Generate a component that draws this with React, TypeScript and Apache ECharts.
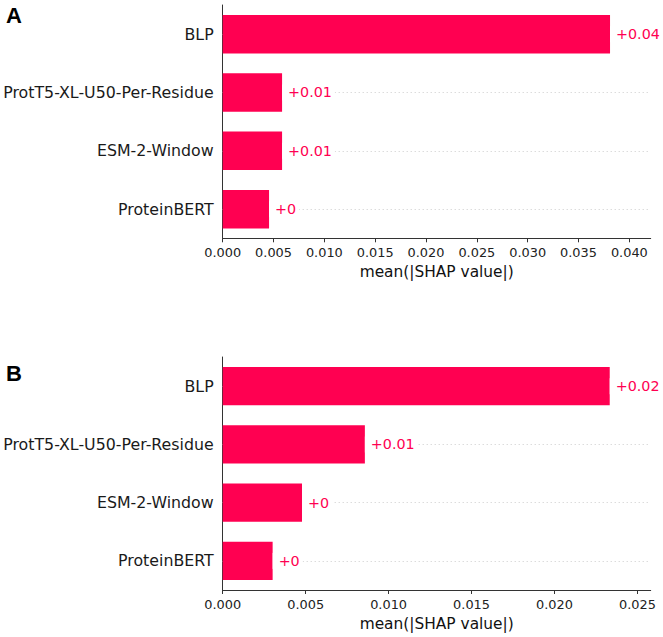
import React, { useEffect, useRef } from "react";
import * as echarts from "echarts";

// Feature names, top to bottom
const categories = ["BLP", "ProtT5-XL-U50-Per-Residue", "ESM-2-Window", "ProteinBERT"];

// mean(|SHAP value|) per feature, panel A and panel B
const shapA = [0.0381, 0.00584, 0.00584, 0.00456];
const shapB = [0.02333, 0.00857, 0.00478, 0.00301];

// x-axis tick values and axis extents
const ticksA = [0, 0.005, 0.01, 0.015, 0.02, 0.025, 0.03, 0.035, 0.04];
const ticksB = [0, 0.005, 0.01, 0.015, 0.02, 0.025];
const axisMaxA = 0.0421;
const axisMaxB = 0.0258;

const panelLetters = ["A", "B"];

const RED = "#ff0051";
const AXIS = "#333333";
const FONT = "DejaVu Sans";

const valueLabel = (v: number) => "+" + String(Number(v.toFixed(2)));

function makeX(gridIndex: number, max: number, ticks: number[]) {
  return {
    type: "value",
    gridIndex,
    min: 0,
    max,
    axisLine: { show: true, lineStyle: { color: AXIS, width: 1 } },
    axisTick: { show: true, length: 4, lineStyle: { color: AXIS }, customValues: ticks },
    axisLabel: {
      customValues: ticks,
      formatter: (v: number) => v.toFixed(3),
      color: "#222",
      fontFamily: FONT,
      fontSize: 12.9,
      margin: 8,
    },
    splitLine: { show: false },
    name: "mean(|SHAP value|)",
    nameLocation: "middle",
    nameGap: 26,
    nameTextStyle: { color: "#111", fontFamily: FONT, fontSize: 15.4 },
  };
}

function makeY(gridIndex: number) {
  return {
    type: "category",
    gridIndex,
    data: categories,
    inverse: true,
    axisLine: { show: true, lineStyle: { color: AXIS, width: 1 } },
    axisTick: { show: false },
    axisLabel: { color: "#1a1a1a", fontFamily: FONT, fontSize: 15.8, margin: 9 },
    splitLine: { show: false },
  };
}

// dotted guide line across the plot at each feature row, kept behind the bars
function guideSeries(idx: number) {
  return {
    type: "line",
    xAxisIndex: idx,
    yAxisIndex: idx,
    data: [],
    z: 1,
    silent: true,
    markLine: {
      z: 1,
      silent: true,
      symbol: ["none", "none"],
      label: { show: false },
      lineStyle: { color: "#cccccc", type: [1, 3], width: 1 },
      data: categories.map((c) => ({ yAxis: c })),
    },
  };
}

function barSeries(idx: number, values: number[]) {
  return {
    type: "bar",
    xAxisIndex: idx,
    yAxisIndex: idx,
    data: values,
    barWidth: "66%",
    z: 3,
    itemStyle: { color: RED },
    label: {
      show: true,
      position: "right",
      distance: 0,
      padding: [1, 3, 1, 6],
      backgroundColor: "#ffffff",
      color: RED,
      fontFamily: FONT,
      fontSize: 14.3,
      formatter: (p: any) => valueLabel(p.value),
    },
  };
}

export default function App() {
  const ref = useRef<HTMLDivElement>(null);

  useEffect(() => {
    if (!ref.current) return;
    const chart = echarts.init(ref.current, null, { renderer: "svg" });
    chart.setOption({
      animation: false,
      backgroundColor: "#ffffff",
      grid: [
        { left: 222.7, right: 12.3, top: 5, height: 233.3 },
        { left: 222.7, right: 12.3, top: 357, height: 233 },
      ],
      xAxis: [makeX(0, axisMaxA, ticksA), makeX(1, axisMaxB, ticksB)],
      yAxis: [makeY(0), makeY(1)],
      series: [guideSeries(0), guideSeries(1), barSeries(0, shapA), barSeries(1, shapB)],
      graphic: [
        {
          type: "text",
          left: 6,
          top: 4,
          style: { text: panelLetters[0], font: 'bold 22px "Liberation Sans"', fill: "#000" },
        },
        {
          type: "text",
          left: 6,
          top: 362,
          style: { text: panelLetters[1], font: 'bold 22px "Liberation Sans"', fill: "#000" },
        },
      ],
    });
    return () => chart.dispose();
  }, []);

  return (
    <div
      ref={ref}
      style={{ position: "absolute", left: 0, top: 0, width: 663, height: 637, background: "#fff" }}
    />
  );
}
